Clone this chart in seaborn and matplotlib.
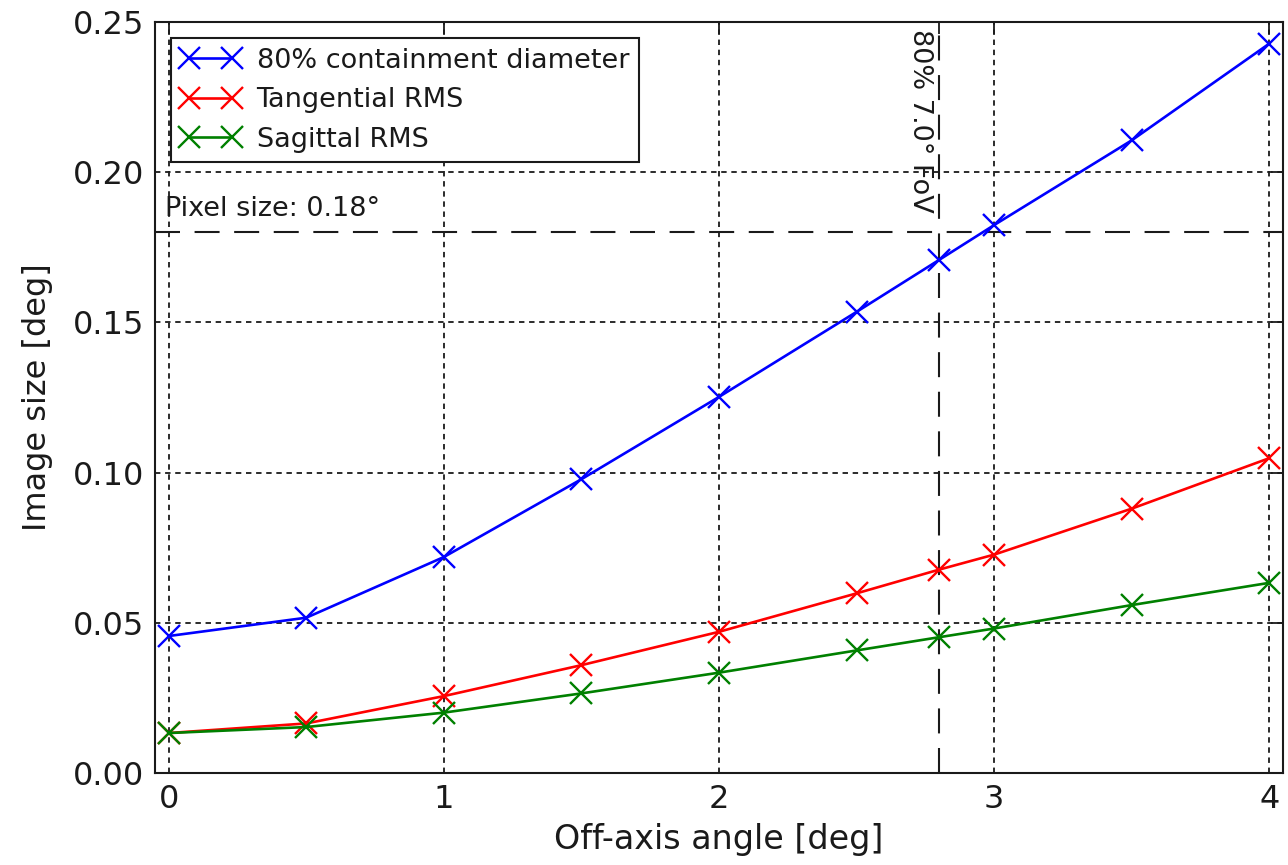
import matplotlib
matplotlib.use("Agg")
import matplotlib.pyplot as plt
import seaborn as sns
import numpy as np
import pandas as pd
from matplotlib.ticker import FormatStrFormatter

# ---- data ----
off_axis = [0.0, 0.5, 1.0, 1.5, 2.0, 2.5, 2.8, 3.0, 3.5, 4.0]
d80 = [0.0456, 0.0517, 0.0719, 0.0978, 0.1252, 0.1535, 0.1708, 0.1824, 0.2106, 0.2428]
tangential_rms = [0.0133, 0.0165, 0.0256, 0.0359, 0.0470, 0.0598, 0.0677, 0.0727, 0.0880, 0.1048]
sagittal_rms = [0.0133, 0.0153, 0.0201, 0.0265, 0.0334, 0.0408, 0.0452, 0.0481, 0.0559, 0.0633]
labels = ["80% containment diameter", "Tangential RMS", "Sagittal RMS"]
colors = ["#0000ff", "#ff0000", "#008000"]
pixel_size = 0.18
fov_edge = 2.8
x_ticks = [0, 1, 2, 3, 4]
y_ticks = [0.00, 0.05, 0.10, 0.15, 0.20, 0.25]

sns.set_theme(style="white")
plt.rcParams["font.family"] = ["DejaVu Sans"]
plt.rcParams["text.color"] = "k"
plt.rcParams["axes.labelcolor"] = "k"
plt.rcParams["xtick.color"] = "k"
plt.rcParams["ytick.color"] = "k"

fig = plt.figure(figsize=(12.88, 8.65), dpi=100)
ax = fig.add_axes([155/1288, (865-773)/865, (1283-155)/1288, (773-22)/865])

for series, lab, col in zip([d80, tangential_rms, sagittal_rms], labels, colors):
    df = pd.DataFrame({"x": off_axis, "y": series})
    sns.lineplot(data=df, x="x", y="y", ax=ax, color=col, label=lab,
                 marker="x", markersize=16, markeredgewidth=1.7,
                 markeredgecolor=col, linewidth=1.9, sort=False)

dash = (0, (12, 7))
ax.axhline(pixel_size, color="k", linestyle=dash, linewidth=1.5, zorder=1)
ax.axvline(fov_edge, color="k", linestyle=dash, linewidth=1.5, zorder=1)

ax.text(-0.012, 0.1855, "Pixel size: %.2f\u00b0" % pixel_size, fontsize=19.5,
        ha="left", va="baseline", color="k")
ax.text(fov_edge - 0.022, 0.2478, "80%% %.1f\u00b0 FoV" % (2 * fov_edge * 1.25),
        fontsize=19.5, rotation=270, ha="right", va="top", color="k")

ax.set_xlim(-0.05, 4.05)
ax.set_ylim(0.0, 0.25)
ax.set_xticks(x_ticks)
ax.set_yticks(y_ticks)
ax.set_xticks([fov_edge], minor=True)
ax.set_yticks([pixel_size], minor=True)
ax.yaxis.set_major_formatter(FormatStrFormatter("%.2f"))
ax.tick_params(which="both", direction="in", top=True, right=True,
               length=8.5, width=1.3, colors="k")
ax.tick_params(which="major", labelsize=23, pad=8)
ax.tick_params(which="minor", labelbottom=False, labelleft=False)

ax.grid(True, which="major", color="k", linestyle=(0, (3, 2.6)), linewidth=1.3)
for s in ax.spines.values():
    s.set_visible(True)
    s.set_color("k")
    s.set_linewidth(1.5)

ax.set_xlabel("Off-axis angle [deg]", fontsize=24, color="k", labelpad=6)
ax.set_ylabel("Image size [deg]", fontsize=23, color="k", labelpad=14)

leg = ax.legend(loc="upper left", numpoints=2, fontsize=19.5, frameon=True,
                fancybox=False, edgecolor="k", framealpha=1, handlelength=2.2,
                handletextpad=0.6, borderaxespad=0.6, labelspacing=0.5,
                borderpad=0.35)
leg.get_frame().set_linewidth(1.5)
for t in leg.get_texts():
    t.set_color("k")

fig.savefig("out.png", dpi=100)
